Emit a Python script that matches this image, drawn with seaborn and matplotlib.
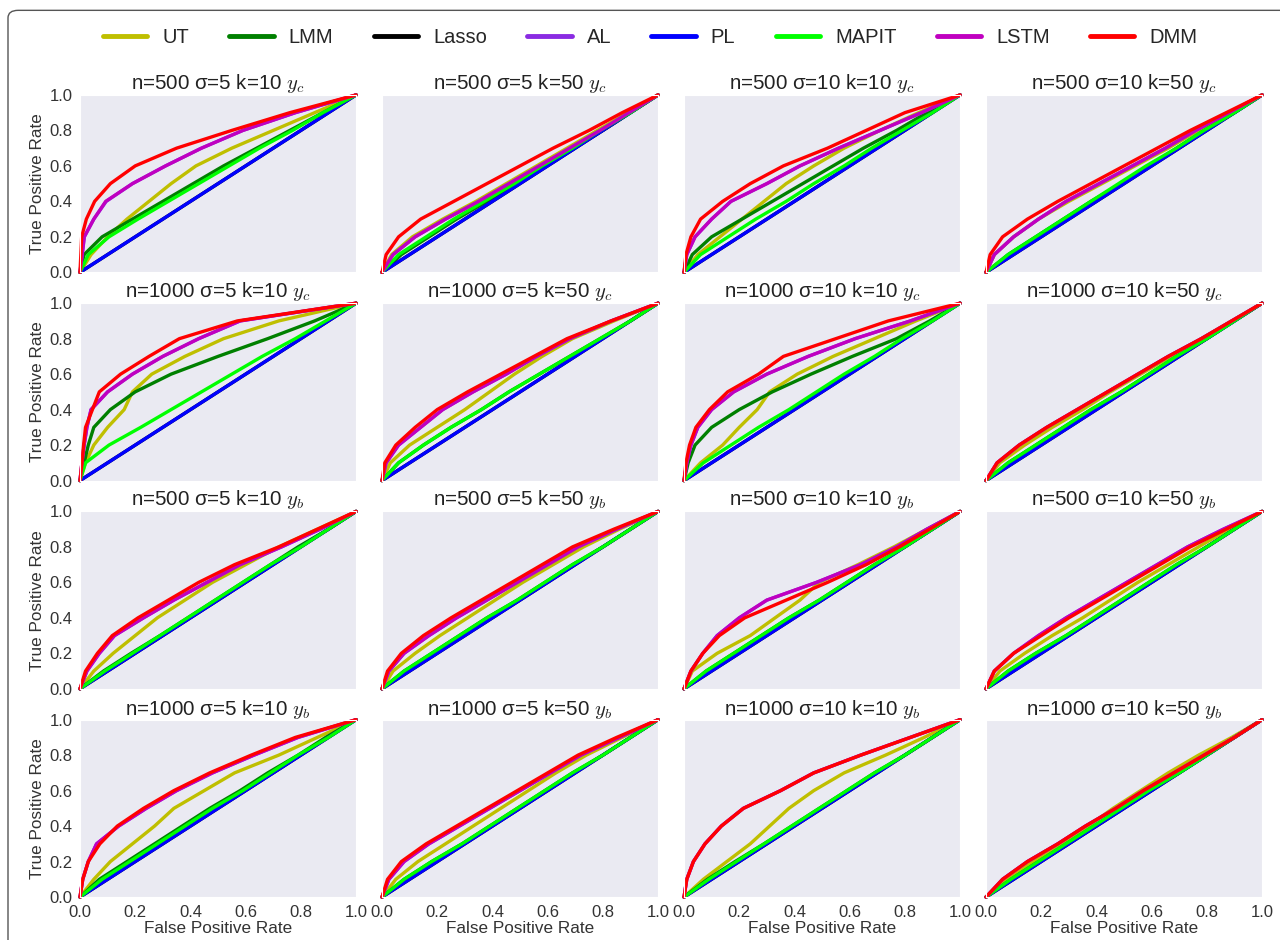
import matplotlib
matplotlib.use("Agg")
import matplotlib.pyplot as plt
from matplotlib.patches import FancyBboxPatch
from matplotlib.lines import Line2D
from matplotlib.ticker import FormatStrFormatter
import seaborn as sns

# style: grey panels, no grid lines
sns.set_style("darkgrid", {"axes.facecolor": "#EAEAF2", "axes.grid": False})
plt.rcParams['font.family'] = ['Liberation Sans', 'DejaVu Sans']
plt.rcParams['mathtext.fontset'] = 'cm'

# ---------------------------------------------------------------------------
# data: FPR of every method at TPR = 0.0, 0.1, ..., 1.0, one row per panel
# ---------------------------------------------------------------------------
tpr_levels = [0.0, 0.1, 0.2, 0.3, 0.4, 0.5, 0.6, 0.7, 0.8, 0.9, 1.0]

titles = [
    "n=500 σ=5 k=10 $y_c$", "n=500 σ=5 k=50 $y_c$", "n=500 σ=10 k=10 $y_c$", "n=500 σ=10 k=50 $y_c$",
    "n=1000 σ=5 k=10 $y_c$", "n=1000 σ=5 k=50 $y_c$", "n=1000 σ=10 k=10 $y_c$", "n=1000 σ=10 k=50 $y_c$",
    "n=500 σ=5 k=10 $y_b$", "n=500 σ=5 k=50 $y_b$", "n=500 σ=10 k=10 $y_b$", "n=500 σ=10 k=50 $y_b$",
    "n=1000 σ=5 k=10 $y_b$", "n=1000 σ=5 k=50 $y_b$", "n=1000 σ=10 k=10 $y_b$", "n=1000 σ=10 k=50 $y_b$",
]

methods = ["UT", "LMM", "Lasso", "AL", "PL", "MAPIT", "LSTM", "DMM"]
colors = ["#BFBF00", "#008000", "#000000", "#8A2BE2", "#0000FF", "#00FF00", "#C000C0", "#FF0000"]

ut_fpr = [
    [0, .04, .10, .17, .25, .33, .42, .55, .70, .85, 1],
    [0, .035, .11, .22, .34, .45, .56, .67, .78, .89, 1],
    [0, .05, .13, .21, .29, .37, .47, .58, .71, .85, 1],
    [0, .03, .10, .19, .30, .42, .54, .66, .77, .88, 1],
    [0, .02, .05, .10, .16, .19, .26, .38, .52, .72, 1],
    [0, .03, .10, .20, .30, .39, .48, .58, .69, .84, 1],
    [0, .06, .14, .20, .265, .31, .41, .54, .69, .84, 1],
    [0, .05, .14, .24, .35, .45, .56, .67, .78, .89, 1],
    [0, .05, .12, .20, .28, .38, .48, .60, .72, .86, 1],
    [0, .04, .12, .21, .31, .41, .51, .62, .73, .86, 1],
    [0, .03, .12, .24, .33, .42, .49, .63, .76, .88, 1],
    [0, .05, .14, .24, .35, .45, .55, .66, .77, .88, 1],
    [0, .05, .11, .19, .27, .34, .45, .56, .72, .86, 1],
    [0, .05, .13, .23, .33, .43, .53, .63, .74, .87, 1],
    [0, .07, .155, .24, .31, .38, .47, .58, .73, .87, 1],
    [0, .07, .17, .27, .37, .46, .56, .66, .77, .89, 1],
]

lmm_fpr = [
    [0, .015, .08, .19, .30, .41, .52, .64, .76, .88, 1],
    [0, .07, .17, .27, .38, .48, .59, .69, .80, .90, 1],
    [0, .03, .10, .21, .32, .43, .54, .65, .77, .88, 1],
    [0, .08, .18, .28, .38, .49, .59, .69, .79, .90, 1],
    [0, .015, .03, .05, .11, .20, .33, .50, .68, .85, 1],
    [0, .06, .15, .25, .36, .46, .57, .68, .79, .90, 1],
    [0, .015, .04, .10, .20, .32, .46, .61, .77, .89, 1],
    [0, .08, .18, .28, .38, .49, .59, .69, .80, .90, 1],
    [0, .085, .185, .29, .39, .49, .59, .69, .79, .90, 1],
    [0, .08, .18, .28, .38, .49, .59, .69, .80, .90, 1],
    [0, .08, .18, .28, .38, .49, .59, .69, .80, .90, 1],
    [0, .08, .18, .29, .39, .49, .59, .69, .80, .90, 1],
    [0, .07, .17, .27, .37, .47, .58, .68, .79, .89, 1],
    [0, .08, .18, .29, .39, .49, .59, .69, .80, .90, 1],
    [0, .085, .185, .29, .39, .49, .59, .69, .80, .90, 1],
    [0, .09, .19, .29, .39, .49, .59, .70, .80, .90, 1],
]

lasso_fpr = [0.0, 0.1, 0.2, 0.3, 0.4, 0.5, 0.6, 0.7, 0.8, 0.9, 1.0]
pl_fpr = [0.0, 0.1, 0.2, 0.3, 0.4, 0.5, 0.6, 0.7, 0.8, 0.9, 1.0]

al_fpr = [
    [0, .008, .016, .05, .095, .19, .31, .44, .59, .78, 1],
    [0, .04, .12, .23, .35, .46, .57, .68, .79, .895, 1],
    [0, .01, .04, .10, .17, .30, .42, .56, .71, .86, 1],
    [0, .03, .10, .19, .29, .41, .53, .65, .76, .88, 1],
    [0, .007, .015, .025, .04, .10, .19, .30, .43, .58, 1],
    [0, .015, .06, .14, .22, .33, .45, .56, .68, .83, 1],
    [0, .01, .025, .05, .10, .18, .30, .45, .62, .82, 1],
    [0, .04, .12, .22, .33, .44, .55, .66, .78, .89, 1],
    [0, .025, .07, .125, .23, .34, .46, .58, .73, .87, 1],
    [0, .025, .08, .17, .27, .38, .49, .60, .71, .85, 1],
    [0, .025, .068, .12, .20, .30, .48, .64, .77, .88, 1],
    [0, .03, .10, .19, .29, .40, .51, .62, .73, .86, 1],
    [0, .01, .03, .06, .14, .24, .35, .48, .63, .79, 1],
    [0, .025, .08, .17, .28, .39, .50, .61, .72, .86, 1],
    [0, .01, .034, .076, .135, .215, .35, .47, .64, .82, 1],
    [0, .06, .15, .26, .36, .47, .57, .68, .79, .90, 1],
]

mapit_fpr = [
    [0, .03, .105, .21, .32, .43, .54, .65, .77, .88, 1],
    [0, .06, .16, .26, .37, .48, .58, .69, .79, .90, 1],
    [0, .06, .16, .26, .37, .47, .58, .68, .79, .90, 1],
    [0, .08, .18, .28, .38, .48, .58, .69, .79, .90, 1],
    [0, .02, .105, .22, .33, .44, .55, .66, .78, .89, 1],
    [0, .06, .15, .25, .36, .46, .57, .68, .79, .90, 1],
    [0, .07, .17, .27, .38, .48, .58, .69, .79, .90, 1],
    [0, .08, .18, .28, .38, .49, .59, .69, .80, .90, 1],
    [0, .09, .19, .29, .39, .49, .59, .69, .80, .90, 1],
    [0, .08, .18, .28, .38, .49, .59, .69, .80, .90, 1],
    [0, .08, .18, .28, .38, .49, .59, .69, .80, .90, 1],
    [0, .08, .18, .29, .39, .49, .59, .69, .80, .90, 1],
    [0, .08, .18, .28, .38, .48, .59, .69, .79, .90, 1],
    [0, .08, .18, .29, .39, .49, .59, .69, .80, .90, 1],
    [0, .09, .19, .29, .39, .49, .59, .69, .80, .90, 1],
    [0, .09, .19, .29, .39, .49, .59, .70, .80, .90, 1],
]

lstm_fpr = [
    [0, .008, .015, .05, .093, .19, .31, .44, .59, .78, 1],
    [0, .04, .12, .23, .35, .46, .57, .68, .79, .895, 1],
    [0, .01, .04, .10, .17, .30, .42, .56, .71, .86, 1],
    [0, .03, .10, .19, .29, .41, .53, .65, .76, .88, 1],
    [0, .007, .015, .025, .04, .10, .19, .30, .43, .58, 1],
    [0, .015, .06, .14, .22, .33, .45, .56, .68, .83, 1],
    [0, .01, .025, .05, .10, .18, .30, .45, .62, .82, 1],
    [0, .04, .12, .22, .33, .44, .55, .66, .78, .89, 1],
    [0, .025, .07, .125, .23, .34, .46, .58, .73, .87, 1],
    [0, .025, .08, .17, .27, .38, .49, .60, .71, .85, 1],
    [0, .025, .068, .12, .20, .30, .48, .64, .77, .88, 1],
    [0, .03, .10, .19, .29, .40, .51, .62, .73, .86, 1],
    [0, .01, .03, .06, .14, .24, .35, .48, .63, .79, 1],
    [0, .025, .08, .17, .28, .39, .50, .61, .72, .86, 1],
    [0, .01, .034, .076, .135, .215, .35, .47, .64, .82, 1],
    [0, .06, .15, .26, .36, .47, .57, .68, .79, .90, 1],
]

dmm_fpr = [
    [0, .003, .006, .023, .053, .11, .20, .35, .55, .76, 1],
    [0, .015, .06, .14, .26, .38, .50, .62, .75, .87, 1],
    [0, .007, .025, .06, .14, .24, .36, .52, .66, .80, 1],
    [0, .015, .06, .15, .26, .38, .50, .62, .74, .87, 1],
    [0, .007, .013, .02, .045, .07, .147, .25, .36, .57, 1],
    [0, .01, .05, .12, .20, .31, .43, .55, .67, .83, 1],
    [0, .007, .02, .043, .092, .158, .27, .36, .55, .74, 1],
    [0, .04, .12, .22, .33, .44, .55, .66, .78, .89, 1],
    [0, .02, .063, .117, .21, .32, .43, .56, .72, .86, 1],
    [0, .02, .07, .15, .25, .36, .47, .58, .69, .84, 1],
    [0, .025, .068, .128, .22, .37, .52, .66, .78, .89, 1],
    [0, .03, .10, .20, .30, .41, .52, .63, .74, .87, 1],
    [0, .01, .03, .072, .135, .23, .34, .47, .62, .78, 1],
    [0, .02, .07, .16, .27, .38, .49, .60, .71, .85, 1],
    [0, .01, .034, .076, .135, .215, .35, .47, .64, .82, 1],
    [0, .06, .15, .26, .36, .47, .57, .68, .79, .90, 1],
]

# ---------------------------------------------------------------------------
# plot
# ---------------------------------------------------------------------------
fig, axes = plt.subplots(4, 4, figsize=(12.8, 9.4), dpi=100, sharex=True, sharey=True)
fig.subplots_adjust(left=0.0625, right=0.986, top=0.899, bottom=0.0457,
                    wspace=0.094, hspace=0.174)

for i, ax in enumerate(axes.flat):
    per_panel = [ut_fpr[i], lmm_fpr[i], lasso_fpr, al_fpr[i], pl_fpr,
                 mapit_fpr[i], lstm_fpr[i], dmm_fpr[i]]
    for fpr, color in zip(per_panel, colors):
        sns.lineplot(x=fpr, y=tpr_levels, ax=ax, color=color, linewidth=2.4,
                     sort=False, estimator=None, legend=False, clip_on=False)
    ax.set_xlim(0, 1)
    ax.set_ylim(0, 1)
    ax.set_xticks([0, 0.2, 0.4, 0.6, 0.8, 1.0])
    ax.set_yticks([0, 0.2, 0.4, 0.6, 0.8, 1.0])
    ax.xaxis.set_major_formatter(FormatStrFormatter('%.1f'))
    ax.yaxis.set_major_formatter(FormatStrFormatter('%.1f'))
    ax.tick_params(axis='both', labelsize=12, colors='#333333', pad=2)
    ax.set_title(titles[i], fontsize=14.8, pad=3, color='#222222')
    ax.set_xlabel('')
    ax.set_ylabel('')

for r in range(4):
    axes[r, 0].set_ylabel('True Positive Rate', fontsize=12.3, color='#333333', labelpad=3)
for c in range(4):
    axes[3, c].set_xlabel('False Positive Rate', fontsize=12.3, color='#333333', labelpad=1)

# legend across the top
handles = [Line2D([], [], color=c, linewidth=3.5) for c in colors]
fig.legend(handles, methods, loc='center', bbox_to_anchor=(0.508, 0.96), ncol=8,
           frameon=False, fontsize=14.5, handlelength=2.2, handletextpad=0.75,
           columnspacing=2.0)

# rounded frame around the figure
frame = FancyBboxPatch((0.00625, -0.1), 1.2, 1.089, transform=fig.transFigure,
                       boxstyle="round,pad=0,rounding_size=0.008", fill=False,
                       edgecolor='#555555', linewidth=1.0)
fig.patches.append(frame)

fig.savefig('out.png', dpi=100)
